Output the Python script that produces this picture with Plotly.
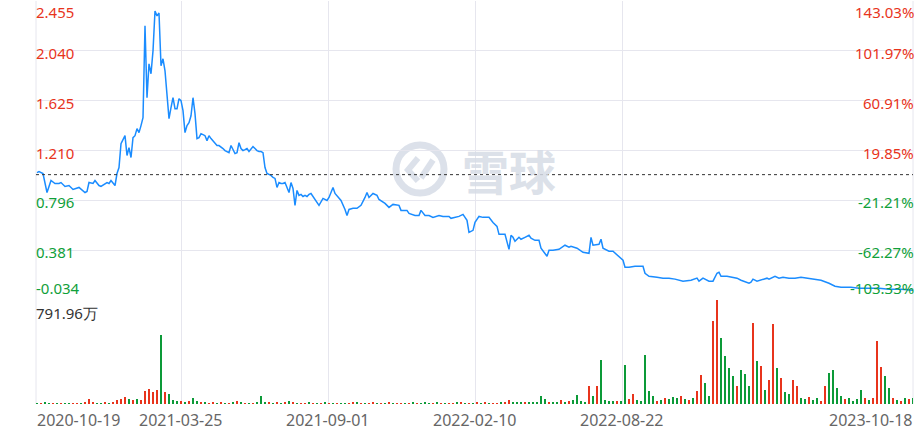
import plotly.graph_objects as go
from plotly.subplots import make_subplots

# 日线收盘价（交易日序号, 收盘价）
price_day = [0, 1, 3, 5, 7, 9, 11, 12, 14, 16, 18, 21, 24, 25, 26, 28, 29, 31, 32, 35,
             36, 37, 39, 40, 41, 42, 44, 45, 46, 47, 48, 49, 50, 51, 52, 53, 54, 55, 56, 57,
             58, 59, 60, 61, 62, 63, 64, 65, 66, 67, 68, 69, 70, 71, 72, 73, 74, 75, 76, 77,
             78, 79, 80, 81, 82, 83, 84, 85, 86, 87, 88, 89, 90, 91, 92, 93, 94, 95, 96, 97,
             98, 99, 100, 101, 102, 103, 104, 105, 106, 107, 108, 109, 110, 111, 112, 113, 114, 115, 116, 117,
             118, 119, 120, 121, 122, 123, 124, 125, 126, 127, 128, 129, 130, 131, 132, 133, 134, 135, 136, 137,
             139, 141, 143, 145, 146, 148, 149, 151, 152, 154, 155, 156, 158, 160, 162, 164, 165, 166, 168, 170,
             171, 174, 176, 178, 181, 182, 185, 186, 189, 191, 192, 194, 196, 198, 201, 203, 206, 207, 209, 211,
             213, 215, 216, 218, 219, 221, 223, 226, 228, 230, 231, 234, 236, 237, 238, 239, 241, 242, 244, 246,
             247, 249, 251, 252, 255, 256, 258, 261, 264, 266, 267, 270, 273, 276, 277, 278, 281, 282, 283, 286,
             288, 291, 292, 293, 294, 296, 299, 303, 304, 306, 310, 313, 316, 319, 323, 327, 330, 331, 333, 336,
             338, 340, 341, 342, 345, 347, 350, 352, 356, 357, 358, 360, 362, 365, 366, 369, 371, 373, 376, 379,
             382, 386, 390, 392, 396, 399, 402, 407, 411, 416, 421, 426, 432, 438]
price_close = [1.027, 1.036, 1.019, 0.861, 0.961, 0.936, 0.936, 0.944, 0.911, 0.919, 0.886, 0.903, 0.861, 0.870, 0.944, 0.936, 0.961, 0.919, 0.911, 0.944,
               0.936, 0.961, 0.919, 1.019, 1.069, 1.268, 1.334, 1.169, 1.235, 1.152, 1.318, 1.334, 1.393, 1.359, 1.418, 1.484, 2.248, 1.650, 1.932, 1.849,
               2.040, 2.372, 2.331, 2.355, 1.916, 1.974, 1.874, 1.650, 1.476, 1.567, 1.650, 1.559, 1.559, 1.642, 1.625, 1.542, 1.359, 1.418, 1.442, 1.500,
               1.650, 1.517, 1.310, 1.318, 1.351, 1.343, 1.334, 1.293, 1.334, 1.310, 1.293, 1.268, 1.252, 1.252, 1.243, 1.227, 1.210, 1.202, 1.193, 1.252,
               1.218, 1.185, 1.193, 1.276, 1.227, 1.210, 1.218, 1.227, 1.202, 1.227, 1.243, 1.227, 1.210, 1.202, 1.202, 1.193, 1.069, 1.019, 1.011, 1.003,
               0.986, 0.978, 0.903, 0.944, 0.936, 0.936, 0.944, 0.903, 0.861, 0.944, 0.895, 0.754, 0.878, 0.837, 0.845, 0.828, 0.837, 0.828, 0.845, 0.853,
               0.803, 0.754, 0.812, 0.795, 0.820, 0.903, 0.853, 0.820, 0.795, 0.720, 0.670, 0.720, 0.729, 0.729, 0.754, 0.820, 0.861, 0.820, 0.853, 0.837,
               0.803, 0.770, 0.737, 0.762, 0.754, 0.712, 0.712, 0.687, 0.670, 0.670, 0.712, 0.670, 0.670, 0.654, 0.670, 0.662, 0.662, 0.646, 0.654, 0.662,
               0.679, 0.629, 0.529, 0.546, 0.612, 0.662, 0.654, 0.654, 0.612, 0.579, 0.513, 0.513, 0.388, 0.505, 0.488, 0.455, 0.488, 0.472, 0.488, 0.505,
               0.480, 0.463, 0.463, 0.397, 0.330, 0.380, 0.380, 0.388, 0.422, 0.405, 0.413, 0.397, 0.363, 0.355, 0.488, 0.422, 0.430, 0.472, 0.397, 0.372,
               0.372, 0.330, 0.314, 0.297, 0.239, 0.239, 0.247, 0.247, 0.189, 0.164, 0.156, 0.148, 0.148, 0.140, 0.123, 0.131, 0.148, 0.123, 0.148, 0.123,
               0.123, 0.189, 0.197, 0.164, 0.164, 0.156, 0.148, 0.131, 0.106, 0.114, 0.140, 0.123, 0.131, 0.148, 0.140, 0.164, 0.148, 0.156, 0.148, 0.148,
               0.156, 0.148, 0.140, 0.131, 0.106, 0.081, 0.073, 0.073, 0.065, 0.065, 0.065, 0.056, 0.056, 0.048]

# 成交量（万），每两个交易日一根
vol_wan = [4, 5, 11, 3, 2, 3, 2, 4, 6, 3,
           2, 3, 8, 38, 15, 6, 5, 8, 4, 11,
           30, 38, 53, 38, 30, 38, 30, 99, 114, 91,
           107, 525, 91, 76, 30, 23, 23, 15, 23, 46,
           23, 11, 8, 6, 8, 5, 8, 6, 7, 8,
           23, 8, 6, 7, 5, 8, 61, 15, 8, 6,
           8, 7, 8, 23, 11, 5, 6, 4, 8, 7,
           5, 6, 9, 4, 6, 5, 7, 6, 4, 8,
           11, 6, 5, 7, 9, 6, 4, 5, 8, 6,
           7, 5, 4, 6, 8, 6, 5, 9, 7, 6,
           8, 5, 6, 4, 7, 8, 11, 6, 5, 7,
           9, 6, 8, 5, 7, 6, 8, 11, 30, 15,
           11, 11, 11, 11, 11, 15, 61, 38, 15, 15,
           15, 30, 15, 23, 30, 69, 23, 15, 137, 61,
           137, 335, 30, 23, 23, 23, 23, 297, 38, 76,
           30, 23, 373, 99, 61, 23, 30, 46, 38, 53,
           46, 61, 38, 30, 46, 99, 221, 160, 61, 632,
           791.96, 503, 366, 274, 213, 137, 259, 228, 137, 617,
           327, 289, 107, 183, 609, 274, 198, 91, 76, 183,
           137, 46, 38, 53, 30, 46, 23, 137, 236, 259,
           122, 61, 38, 46, 23, 38, 107, 46, 30, 46,
           480, 282, 213, 122, 46, 30, 23, 46, 38, 46]
# r = 上涨, g = 下跌
vol_dir = ("grggrgrggr" "rgrrrggrgr" "rrrgrgrrrr" "rgrgggrgrg" "grgrrgrgrg"
           "rgrgrgggrg" "rgrgrgrrgr" "grgrgrggrr" "grgrrgrgrg" "rrgrgrgggr"
           "grgrrgrgrg" "rgrgrrgrrg" "ggrgggggrg" "grgrggggrg" "rggggrggrr"
           "gggggrgrgg" "grgrgrrggr" "rggggrgggr" "grgrrgrggr" "rggrggrrgg"
           "ggrggggrgr" "rrggrgrgrg")

price_ticks = [2.455, 2.040, 1.625, 1.210, 0.796, 0.381, -0.034]
price_labels = ["2.455", "2.040", "1.625", "1.210", "0.796", "0.381", "-0.034"]
pct_labels = ["143.03%", "101.97%", "60.91%", "19.85%", "-21.21%", "-62.27%", "-103.33%"]
base_price = 1.0096
vol_max = 791.96
vol_max_label = "791.96万"
date_ticks = [0, 72, 145.5, 219, 292.5, 438]
date_labels = ["2020-10-19", "2021-03-25", "2021-09-01", "2022-02-10", "2022-08-22", "2023-10-18"]

RED = "#e8341c"
GREEN = "#10a03a"
GRID = "#e6e6ee"
FONT = "Noto Sans"

vol_day = [2 * k for k in range(len(vol_wan))]
bar_colors = [RED if d == "r" else "#0c9a38" for d in vol_dir]

fig = make_subplots(rows=2, cols=1, shared_xaxes=True, vertical_spacing=0)

fig.add_trace(go.Scatter(x=price_day, y=price_close, mode="lines",
                         line=dict(color="#1a8cff", width=1.5), hoverinfo="skip"), row=1, col=1)
fig.add_trace(go.Bar(x=vol_day, y=vol_wan, marker=dict(color=bar_colors, line=dict(width=0)),
                     width=1.3, hoverinfo="skip"), row=2, col=1)

xr = [-0.5, 438]
for ax in ("xaxis", "xaxis2"):
    fig.layout[ax].update(range=xr, tickvals=date_ticks[1:-1], showticklabels=False,
                          showgrid=True, gridcolor=GRID, gridwidth=1, zeroline=False, ticks="")
fig.update_layout(
    yaxis=dict(domain=[0.258, 1], range=[-0.034, 2.455], tickvals=price_ticks, showticklabels=False,
               showgrid=True, gridcolor=GRID, zeroline=False),
    yaxis2=dict(domain=[0, 0.258], range=[0, vol_max], showgrid=False, showticklabels=False,
                zeroline=False),
)

annotations = []
for v, lab, pct in zip(price_ticks, price_labels, pct_labels):
    col = RED if v > base_price else GREEN
    if v == price_ticks[0]:
        ya, ys = "top", 1
    elif v == price_ticks[-1]:
        ya, ys = "bottom", 0
    else:
        ya, ys = "middle", -2
    annotations.append(dict(x=0, xref="paper", y=v, yref="y", text=lab, showarrow=False,
                            xanchor="left", yanchor=ya, yshift=ys, xshift=-2,
                            font=dict(family=FONT, size=15, color=col)))
    annotations.append(dict(x=1, xref="paper", y=v, yref="y", text=pct, showarrow=False,
                            xanchor="right", yanchor=ya, yshift=ys, xshift=3,
                            font=dict(family=FONT, size=15, color=col)))

annotations.append(dict(x=0, xref="paper", y=vol_max, yref="y2", text=vol_max_label, showarrow=False,
                        xanchor="left", yanchor="top", xshift=-2, yshift=-1,
                        font=dict(family=FONT, size=15, color="#333333")))

for i, (d, lab) in enumerate(zip(date_ticks, date_labels)):
    xa = "left" if i == 0 else ("right" if i == len(date_ticks) - 1 else "center")
    xs = -2 if i == 0 else (2 if xa == "right" else 0)
    annotations.append(dict(x=d, xref="x2", y=0, yref="paper", text=lab, showarrow=False,
                            xanchor=xa, yanchor="top", yshift=-3, xshift=xs,
                            font=dict(family=FONT, size=16, color="#666666")))

# 雪球 水印
wm = "rgba(214,220,230,0.85)"
annotations.append(dict(x=(509 - 36) / 877, xref="paper", y=(404 - 170) / 403, yref="paper",
                        text="<b>雪球</b>", showarrow=False, xanchor="center", yanchor="middle",
                        font=dict(family="Noto Sans CJK SC", size=47, color=wm)))

shapes = [
    dict(type="circle", xref="paper", yref="paper",
         x0=(396 - 36) / 877, x1=(444 - 36) / 877, y0=(404 - 193) / 403, y1=(404 - 145) / 403,
         line=dict(color=wm, width=7), layer="between"),
    dict(type="path", xref="paper", yref="paper", layer="between",
         path="M %f %f L %f %f L %f %f" % ((418 - 36) / 877, (404 - 158) / 403, (408 - 36) / 877, (404 - 170) / 403,
                                         (418 - 36) / 877, (404 - 181) / 403),
         line=dict(color=wm, width=6)),
    dict(type="path", xref="paper", yref="paper", layer="between",
         path="M %f %f L %f %f" % ((421 - 36) / 877, (404 - 178) / 403, (433 - 36) / 877, (404 - 160) / 403),
         line=dict(color=wm, width=6)),
    dict(type="line", xref="paper", x0=0, x1=1, yref="y", y0=base_price, y1=base_price,
         line=dict(color="#333333", width=1, dash="3px,3px")),
    dict(type="line", xref="paper", x0=0, x1=0, yref="paper", y0=0, y1=1,
         line=dict(color=GRID, width=1), layer="below"),
    dict(type="line", xref="paper", x0=1, x1=1, yref="paper", y0=0, y1=1,
         line=dict(color=GRID, width=1), layer="below"),
]

fig.update_layout(
    width=924, height=431,
    margin=dict(l=36, r=11, t=1, b=27),
    paper_bgcolor="white", plot_bgcolor="white",
    showlegend=False, bargap=0,
    annotations=annotations, shapes=shapes,
    font=dict(family=FONT),
)

fig.write_html("out.html", config={"displayModeBar": False},
               post_script="document.body.style.margin='0';")
